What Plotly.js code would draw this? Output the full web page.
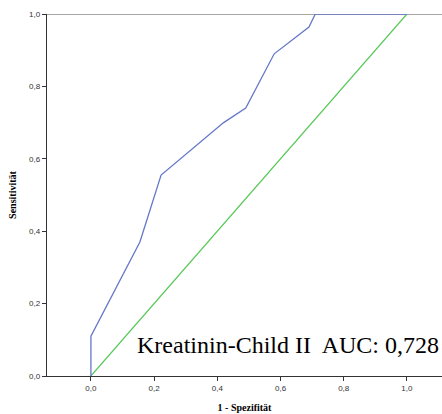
<!DOCTYPE html>
<html><head><meta charset="utf-8">
<script src="https://cdn.plot.ly/plotly-3.0.1.min.js"></script>
<style>body{margin:0;padding:0;background:#fff}#c{width:442px;height:414px}</style>
</head><body><div id="c"></div>
<script>
const rocX = [0, 0, 0.155, 0.222, 0.42, 0.49, 0.58, 0.69, 0.71, 1.0];
const rocY = [0, 0.11, 0.37, 0.555, 0.70, 0.74, 0.89, 0.964, 1.0, 1.0];
const refX = [0, 1];
const refY = [0, 1];
const xTicks = [0, 0.2, 0.4, 0.6, 0.8, 1.0];
const yTicks = [0, 0.2, 0.4, 0.6, 0.8, 1.0];
const label = 'Kreatinin-Child II  AUC: 0,728';

const traces = [
  {x: refX, y: refY, mode: 'lines', line: {color: '#55c855', width: 1.2}, hoverinfo: 'none'},
  {x: rocX, y: rocY, mode: 'lines', line: {color: '#6478c8', width: 1.3}, hoverinfo: 'none'}
];
const layout = {
  width: 442, height: 414,
  margin: {l: 47, r: 0, t: 14, b: 38},
  showlegend: false,
  paper_bgcolor: '#fff', plot_bgcolor: '#fff',
  separators: ',.',
  xaxis: {
    range: [-0.139, 1.111], tickvals: xTicks, tickformat: '.1f',
    showgrid: false, zeroline: false, showline: true, linecolor: '#333', linewidth: 1.3,
    ticks: 'outside', ticklen: 4, tickcolor: '#333',
    tickfont: {family: 'Liberation Sans, Arial', size: 8, color: '#333'},
    title: {text: '<b>1 - Spezifität</b>', font: {family: 'Liberation Serif', size: 10, color: '#000'}, standoff: 12}
  },
  yaxis: {
    range: [0, 1], tickvals: yTicks, tickformat: '.1f',
    showgrid: false, zeroline: false, showline: true, linecolor: '#333', linewidth: 1.3,
    ticks: 'outside', ticklen: 4, tickcolor: '#333',
    tickfont: {family: 'Liberation Sans, Arial', size: 8, color: '#333'},
    title: {text: '<b>Sensitivität</b>', font: {family: 'Liberation Serif', size: 10, color: '#000'}, standoff: 10}
  },
  shapes: [
    {type: 'line', xref: 'paper', yref: 'y', x0: 0, x1: 1, y0: 1, y1: 1, line: {color: '#888', width: 1.5}, layer: 'below'}
  ],
  annotations: [
    {xref: 'x', yref: 'y', x: 1.107, y: 0.085, xanchor: 'right', yanchor: 'middle', text: label, showarrow: false,
     font: {family: 'Liberation Serif', size: 24, color: '#000'}}
  ]
};
Plotly.newPlot('c', traces, layout, {staticPlot: true});
</script></body></html>
